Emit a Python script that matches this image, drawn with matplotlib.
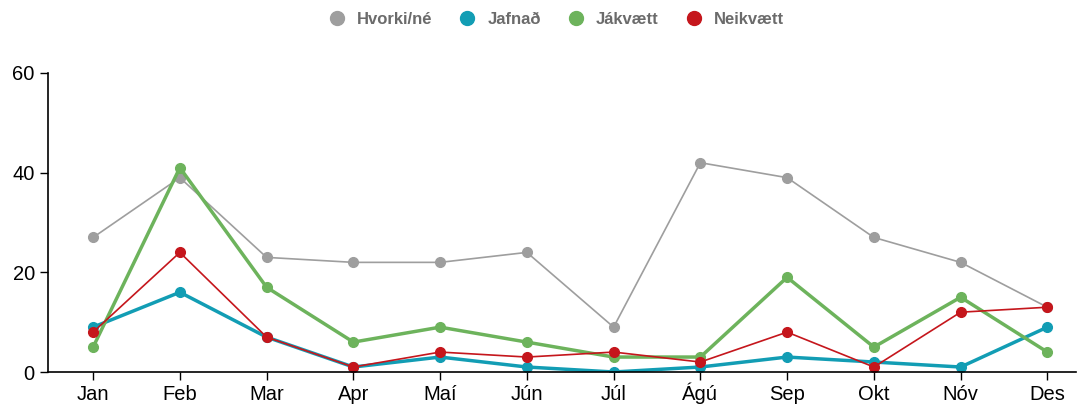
import matplotlib
matplotlib.use('Agg')
import matplotlib.pyplot as plt

plt.rcParams['font.family'] = ['Liberation Sans', 'DejaVu Sans']

months = ['Jan', 'Feb', 'Mar', 'Apr', 'Maí', 'Jún', 'Júl', 'Ágú', 'Sep', 'Okt', 'Nóv', 'Des']
hvorki = [27, 39, 23, 22, 22, 24, 9, 42, 39, 27, 22, 13]
jafnad = [9, 16, 7, 1, 3, 1, 0, 1, 3, 2, 1, 9]
jakvaett = [5, 41, 17, 6, 9, 6, 3, 3, 19, 5, 15, 4]
neikvaett = [8, 24, 7, 1, 4, 3, 4, 2, 8, 1, 12, 13]

series = [
    ('Hvorki/né', hvorki, '#9e9e9e', 1.2),
    ('Jafnað', jafnad, '#129db4', 2.5),
    ('Jákvætt', jakvaett, '#6db35c', 2.5),
    ('Neikvætt', neikvaett, '#c5161c', 1.2),
]

fig = plt.figure(figsize=(10.78, 4.05), dpi=100)
ax = fig.add_axes([48/1078, 33/405, 1028/1078, 299/405])
x = list(range(len(months)))
for name, vals, col, lw in series:
    ax.plot(x, vals, color=col, lw=lw, marker='o', markersize=7, label=name)

ax.set_xlim(-0.52, 11.33)
ax.set_ylim(0, 60)
ax.set_yticks([0, 20, 40, 60])
ax.set_xticks(x)
ax.set_xticklabels(months)
ax.tick_params(labelsize=14.5, length=6, width=1, color='black')
ax.tick_params(axis='x', pad=14.5)
for lbl in ax.get_xticklabels():
    lbl.set_va('baseline')
for s in ['top', 'right']:
    ax.spines[s].set_visible(False)
ax.spines['left'].set_linewidth(1.2)
ax.spines['bottom'].set_linewidth(1.2)

handles = [plt.Line2D([], [], ls='none', marker='o', markersize=10, color=c) for _, _, c, _ in series]
leg = fig.legend(handles, [s[0] for s in series], loc='center', bbox_to_anchor=(0.512, 0.953),
                 ncol=4, frameon=False, handletextpad=0.2, columnspacing=1.1,
                 prop={'weight': 'bold', 'size': 12})
for t in leg.get_texts():
    t.set_color('#6b6b6b')

fig.savefig('out.png', dpi=100)
